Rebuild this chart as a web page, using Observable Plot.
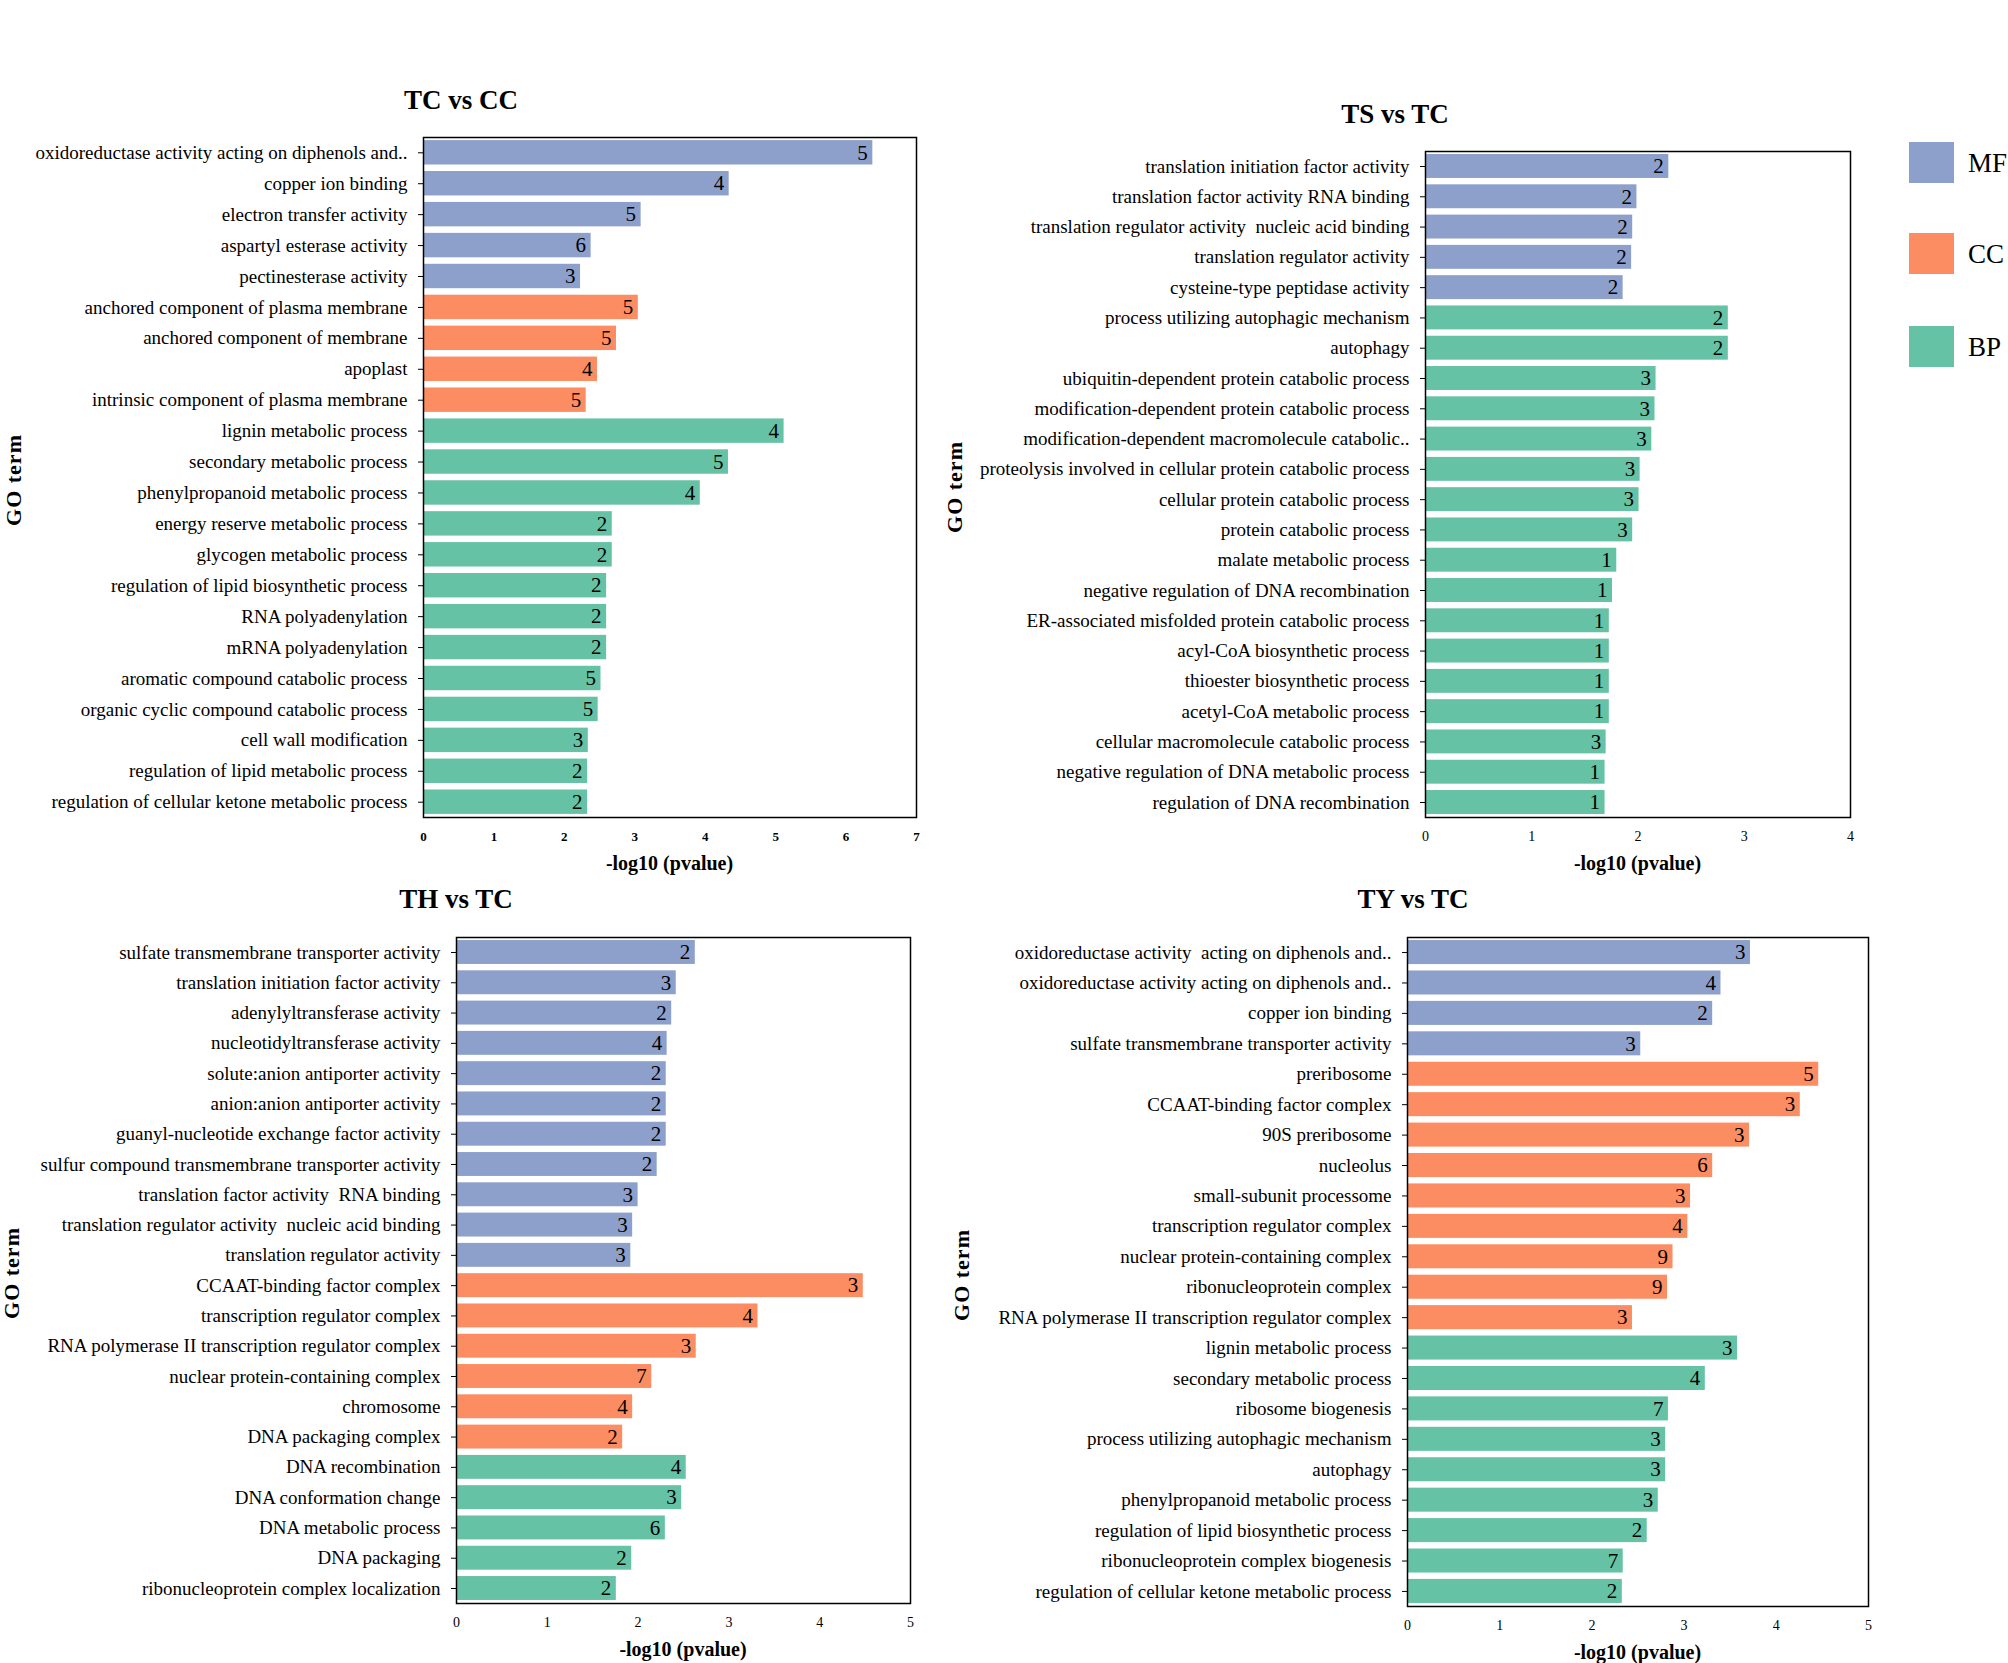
<!DOCTYPE html>
<html><head><meta charset="utf-8">
<script src="https://cdn.jsdelivr.net/npm/d3@7"></script>
<script src="https://cdn.jsdelivr.net/npm/@observablehq/plot@0.6"></script>
<style>
html,body{margin:0;padding:0;background:#fff;overflow:hidden;}
#root{position:relative;width:2008px;height:1663px;overflow:hidden;font-family:"Liberation Serif","Times New Roman",serif;background:#fff;}
.abs{position:absolute;white-space:nowrap;color:#000;line-height:1;}
.title{font-size:27px;font-weight:bold;transform:translate(-50%,-50%);}
.xlab{font-size:20px;font-weight:bold;transform:translate(-50%,-50%);}
.ylab{font-size:22px;font-weight:bold;transform:translate(-50%,-50%) rotate(-90deg);letter-spacing:1px;}
.legtxt{font-size:27px;transform:translateY(-50%);}
svg text{white-space:pre;}
</style></head>
<body><div id="root"></div>
<script>
// ---------- shared ----------
const categoryNames = ["MF", "CC", "BP"];
const categoryColors = ["#8DA0CB", "#FC8D62", "#66C2A5"];

// ---------- TC vs CC ----------
const tcccTerms = [
  "oxidoreductase activity acting on diphenols and..", "copper ion binding", "electron transfer activity",
  "aspartyl esterase activity", "pectinesterase activity", "anchored component of plasma membrane",
  "anchored component of membrane", "apoplast", "intrinsic component of plasma membrane",
  "lignin metabolic process", "secondary metabolic process", "phenylpropanoid metabolic process",
  "energy reserve metabolic process", "glycogen metabolic process", "regulation of lipid biosynthetic process",
  "RNA polyadenylation", "mRNA polyadenylation", "aromatic compound catabolic process",
  "organic cyclic compound catabolic process", "cell wall modification", "regulation of lipid metabolic process",
  "regulation of cellular ketone metabolic process"];
const tcccValues = [6.38, 4.34, 3.09, 2.38, 2.23, 3.05, 2.74, 2.47, 2.31, 5.12, 4.33, 3.93,
  2.68, 2.68, 2.60, 2.60, 2.60, 2.52, 2.48, 2.34, 2.33, 2.33];
const tcccCounts = [5, 4, 5, 6, 3, 5, 5, 4, 5, 4, 5, 4, 2, 2, 2, 2, 2, 5, 5, 3, 2, 2];
const tcccCats = ["MF","MF","MF","MF","MF","CC","CC","CC","CC",
  "BP","BP","BP","BP","BP","BP","BP","BP","BP","BP","BP","BP","BP"];
const tcccTicks = [0, 1, 2, 3, 4, 5, 6, 7];

// ---------- TS vs TC ----------
const tstcTerms = [
  "translation initiation factor activity", "translation factor activity RNA binding",
  "translation regulator activity  nucleic acid binding", "translation regulator activity",
  "cysteine-type peptidase activity", "process utilizing autophagic mechanism", "autophagy",
  "ubiquitin-dependent protein catabolic process", "modification-dependent protein catabolic process",
  "modification-dependent macromolecule catabolic..", "proteolysis involved in cellular protein catabolic process",
  "cellular protein catabolic process", "protein catabolic process", "malate metabolic process",
  "negative regulation of DNA recombination", "ER-associated misfolded protein catabolic process",
  "acyl-CoA biosynthetic process", "thioester biosynthetic process", "acetyl-CoA metabolic process",
  "cellular macromolecule catabolic process", "negative regulation of DNA metabolic process",
  "regulation of DNA recombination"];
const tstcValues = [2.29, 1.99, 1.95, 1.94, 1.86, 2.85, 2.85, 2.17, 2.16, 2.13, 2.02, 2.01,
  1.95, 1.80, 1.76, 1.73, 1.73, 1.73, 1.73, 1.70, 1.69, 1.69];
const tstcCounts = [2, 2, 2, 2, 2, 2, 2, 3, 3, 3, 3, 3, 3, 1, 1, 1, 1, 1, 1, 3, 1, 1];
const tstcCats = ["MF","MF","MF","MF","MF",
  "BP","BP","BP","BP","BP","BP","BP","BP","BP","BP","BP","BP","BP","BP","BP","BP","BP"];
const tstcTicks = [0, 1, 2, 3, 4];

// ---------- TH vs TC ----------
const thtcTerms = [
  "sulfate transmembrane transporter activity", "translation initiation factor activity",
  "adenylyltransferase activity", "nucleotidyltransferase activity", "solute:anion antiporter activity",
  "anion:anion antiporter activity", "guanyl-nucleotide exchange factor activity",
  "sulfur compound transmembrane transporter activity", "translation factor activity  RNA binding",
  "translation regulator activity  nucleic acid binding", "translation regulator activity",
  "CCAAT-binding factor complex", "transcription regulator complex",
  "RNA polymerase II transcription regulator complex", "nuclear protein-containing complex",
  "chromosome", "DNA packaging complex", "DNA recombination", "DNA conformation change",
  "DNA metabolic process", "DNA packaging", "ribonucleoprotein complex localization"];
const thtcValues = [2.63, 2.42, 2.37, 2.32, 2.31, 2.31, 2.31, 2.21, 2.00, 1.94, 1.92,
  4.48, 3.32, 2.64, 2.15, 1.94, 1.83, 2.53, 2.48, 2.30, 1.93, 1.76];
const thtcCounts = [2, 3, 2, 4, 2, 2, 2, 2, 3, 3, 3, 3, 4, 3, 7, 4, 2, 4, 3, 6, 2, 2];
const thtcCats = ["MF","MF","MF","MF","MF","MF","MF","MF","MF","MF","MF",
  "CC","CC","CC","CC","CC","CC","BP","BP","BP","BP","BP"];
const thtcTicks = [0, 1, 2, 3, 4, 5];

// ---------- TY vs TC ----------
const tytcTerms = [
  "oxidoreductase activity  acting on diphenols and..", "oxidoreductase activity acting on diphenols and..",
  "copper ion binding", "sulfate transmembrane transporter activity", "preribosome",
  "CCAAT-binding factor complex", "90S preribosome", "nucleolus", "small-subunit processome",
  "transcription regulator complex", "nuclear protein-containing complex", "ribonucleoprotein complex",
  "RNA polymerase II transcription regulator complex", "lignin metabolic process",
  "secondary metabolic process", "ribosome biogenesis", "process utilizing autophagic mechanism",
  "autophagy", "phenylpropanoid metabolic process", "regulation of lipid biosynthetic process",
  "ribonucleoprotein complex biogenesis", "regulation of cellular ketone metabolic process"];
const tytcValues = [3.72, 3.40, 3.31, 2.53, 4.46, 4.26, 3.71, 3.31, 3.07, 3.04, 2.88, 2.82,
  2.44, 3.58, 3.23, 2.83, 2.80, 2.80, 2.72, 2.60, 2.34, 2.33];
const tytcCounts = [3, 4, 2, 3, 5, 3, 3, 6, 3, 4, 9, 9, 3, 3, 4, 7, 3, 3, 3, 2, 7, 2];
const tytcCats = ["MF","MF","MF","MF","CC","CC","CC","CC","CC","CC","CC","CC","CC",
  "BP","BP","BP","BP","BP","BP","BP","BP","BP"];
const tytcTicks = [0, 1, 2, 3, 4, 5];

const FONT = "'Liberation Serif','Times New Roman',serif";
const root = document.getElementById("root");

function addDiv(cls, text, x, y) {
  const d = document.createElement("div");
  d.className = "abs " + cls;
  d.textContent = text;
  d.style.left = x + "px";
  d.style.top = y + "px";
  root.appendChild(d);
  return d;
}

function panel(cfg) {
  const rows = cfg.terms.map((t, i) => ({term: t, value: cfg.values[i], count: cfg.counts[i], cat: cfg.cats[i]}));
  const mL = cfg.marginLeft, mR = 14, mT = 10, mB = 46;
  const w = cfg.R - cfg.L, h = cfg.B - cfg.T;
  const chart = Plot.plot({
    width: mL + w + mR,
    height: mT + h + mB,
    marginLeft: mL, marginRight: mR, marginTop: mT, marginBottom: mB,
    style: {background: "transparent", fontFamily: FONT, color: "black", overflow: "visible"},
    x: {domain: [0, cfg.xMax]},
    y: {domain: cfg.terms, paddingInner: 0.21, paddingOuter: 0.1, align: 0.5, round: false},
    color: {domain: categoryNames, range: categoryColors},
    marks: [
      Plot.barX(rows, {x: "value", y: "term", fill: "cat"}),
      Plot.text(rows, {x: "value", y: "term", text: "count", textAnchor: "end", dx: -5, fontSize: 21, fill: "black"}),
      Plot.frame({stroke: "black", strokeWidth: 1.5}),
      Plot.axisY({tickSize: 5, tickPadding: 11, fontSize: 19, label: null}),
      Plot.axisX({ticks: cfg.ticks, tickFormat: d => String(d), tickSize: 0, tickPadding: 14, fontSize: cfg.tickFont,
        fontWeight: cfg.tickBold ? "bold" : "normal", label: null})
    ]
  });
  chart.style.position = "absolute";
  chart.style.left = (cfg.L - mL) + "px";
  chart.style.top = (cfg.T - mT) + "px";
  root.appendChild(chart);
  addDiv("title", cfg.title, cfg.titleX, cfg.titleY);
  addDiv("xlab", "-log10 (pvalue)", (cfg.L + cfg.R) / 2, cfg.B + 46);
  addDiv("ylab", "GO term", cfg.goX, (cfg.T + cfg.B) / 2 + 3);
}

panel({title: "TC vs CC", terms: tcccTerms, values: tcccValues, counts: tcccCounts, cats: tcccCats,
  ticks: tcccTicks, xMax: 7, L: 423, R: 916, T: 137, B: 817, marginLeft: 420, tickBold: true, tickFont: 13,
  titleX: 461, titleY: 100, goX: 14});
panel({title: "TS vs TC", terms: tstcTerms, values: tstcValues, counts: tstcCounts, cats: tstcCats,
  ticks: tstcTicks, xMax: 4, L: 1425, R: 1850, T: 151, B: 817, marginLeft: 450, tickBold: false, tickFont: 14,
  titleX: 1395, titleY: 114, goX: 955});
panel({title: "TH vs TC", terms: thtcTerms, values: thtcValues, counts: thtcCounts, cats: thtcCats,
  ticks: thtcTicks, xMax: 5, L: 456, R: 910, T: 937, B: 1603, marginLeft: 440, tickBold: false, tickFont: 14,
  titleX: 456, titleY: 899, goX: 12});
panel({title: "TY vs TC", terms: tytcTerms, values: tytcValues, counts: tytcCounts, cats: tytcCats,
  ticks: tytcTicks, xMax: 5, L: 1407, R: 1868, T: 937, B: 1606, marginLeft: 420, tickBold: false, tickFont: 14,
  titleX: 1413, titleY: 899, goX: 962});

// legend
const legendTops = [142, 233, 326];
categoryNames.forEach((name, i) => {
  const sq = document.createElement("div");
  sq.className = "abs";
  sq.style.left = "1909px";
  sq.style.top = legendTops[i] + "px";
  sq.style.width = "45px";
  sq.style.height = "41px";
  sq.style.background = categoryColors[i];
  root.appendChild(sq);
  addDiv("legtxt", name, 1968, legendTops[i] + 21);
});
</script>
</body></html>
